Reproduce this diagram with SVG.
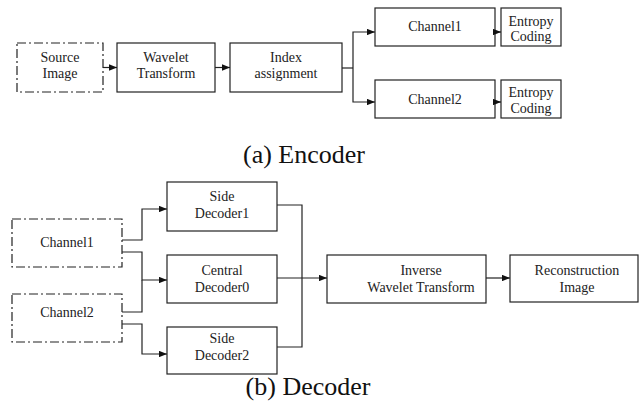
<svg xmlns="http://www.w3.org/2000/svg" width="641" height="409" viewBox="0 0 641 409">
<defs>
<style>
.box{fill:#fff;stroke:#222;stroke-width:1.2}
.dash{stroke-dasharray:9 3 2 3}
.t{font-size:14px;fill:#222;text-anchor:middle}
.cap{font-size:26px;fill:#111;text-anchor:middle}
.ln{fill:none;stroke:#222;stroke-width:1.2}
</style>
<marker id="ah" viewBox="0 0 10 8" refX="10" refY="4" markerWidth="8" markerHeight="6.5" markerUnits="userSpaceOnUse" orient="auto">
<path d="M0,0 L10,4 L0,8 z" fill="#111"/>
</marker>
</defs>
<rect width="641" height="409" fill="#fff"/>
<g font-family="'Liberation Serif', 'DejaVu Serif', serif">
<g id="enc-source"><rect class="box dash" x="17" y="43" width="86" height="49"/><text class="t" x="60" y="62">Source</text><text class="t" x="60" y="78">Image</text></g>
<g id="enc-wavelet"><rect class="box" x="117" y="43" width="98" height="49"/><text class="t" x="166" y="62">Wavelet</text><text class="t" x="166" y="78">Transform</text></g>
<g id="enc-index"><rect class="box" x="230" y="43" width="112" height="49"/><text class="t" x="286" y="62">Index</text><text class="t" x="286" y="78">assignment</text></g>
<g id="enc-channel1"><rect class="box" x="375" y="8" width="120" height="38"/><text class="t" x="435" y="31">Channel1</text></g>
<g id="enc-entropy1"><rect class="box" x="501" y="8" width="60" height="38"/><text class="t" x="531" y="26">Entropy</text><text class="t" x="531" y="41">Coding</text></g>
<g id="enc-channel2"><rect class="box" x="375" y="80" width="120" height="38"/><text class="t" x="435" y="104">Channel2</text></g>
<g id="enc-entropy2"><rect class="box" x="501" y="80" width="60" height="38"/><text class="t" x="531" y="97">Entropy</text><text class="t" x="531" y="113">Coding</text></g>
<text class="cap" x="304" y="163">(a) Encoder</text>

<g id="dec-channel1"><rect class="box dash" x="12" y="219" width="110" height="48"/><text class="t" x="67" y="247">Channel1</text></g>
<g id="dec-channel2"><rect class="box dash" x="12" y="294" width="110" height="48"/><text class="t" x="67" y="317">Channel2</text></g>
<g id="dec-side1"><rect class="box" x="167" y="182" width="110" height="49"/><text class="t" x="222" y="201">Side</text><text class="t" x="222" y="218">Decoder1</text></g>
<g id="dec-central"><rect class="box" x="167" y="255" width="110" height="48"/><text class="t" x="222" y="275">Central</text><text class="t" x="222" y="292">Decoder0</text></g>
<g id="dec-side2"><rect class="box" x="167" y="327" width="110" height="47"/><text class="t" x="222" y="343">Side</text><text class="t" x="222" y="360">Decoder2</text></g>
<g id="dec-inverse"><rect class="box" x="327" y="255" width="159" height="48"/><text class="t" x="421" y="275">Inverse</text><text class="t" x="421" y="292">Wavelet Transform</text></g>
<g id="dec-recon"><rect class="box" x="510" y="255" width="128" height="47"/><text class="t" x="577" y="275">Reconstruction</text><text class="t" x="577" y="292">Image</text></g>
<text class="cap" x="308" y="395">(b) Decoder</text>
</g>
<g id="connectors">
<path class="ln" d="M103,67.5 H117" marker-end="url(#ah)"/>
<path class="ln" d="M215,67.5 H230" marker-end="url(#ah)"/>
<path class="ln" d="M342,68 H353"/>
<path class="ln" d="M353,68 V32 H375" marker-end="url(#ah)"/>
<path class="ln" d="M353,68 V102 H375" marker-end="url(#ah)"/>
<path class="ln" d="M495,32 H501" marker-end="url(#ah)"/>
<path class="ln" d="M495,102 H501" marker-end="url(#ah)"/>
<path class="ln" d="M122,240 H142 V209 H167" marker-end="url(#ah)"/>
<path class="ln" d="M122,252 H142 V280 H167" marker-end="url(#ah)"/>
<path class="ln" d="M122,312 H142 V280"/>
<path class="ln" d="M122,324 H142 V354 H167" marker-end="url(#ah)"/>
<path class="ln" d="M277,205 H302 V347 H277"/>
<path class="ln" d="M277,278 H327" marker-end="url(#ah)"/>
<path class="ln" d="M486,278 H510" marker-end="url(#ah)"/>
</g>
</svg>
